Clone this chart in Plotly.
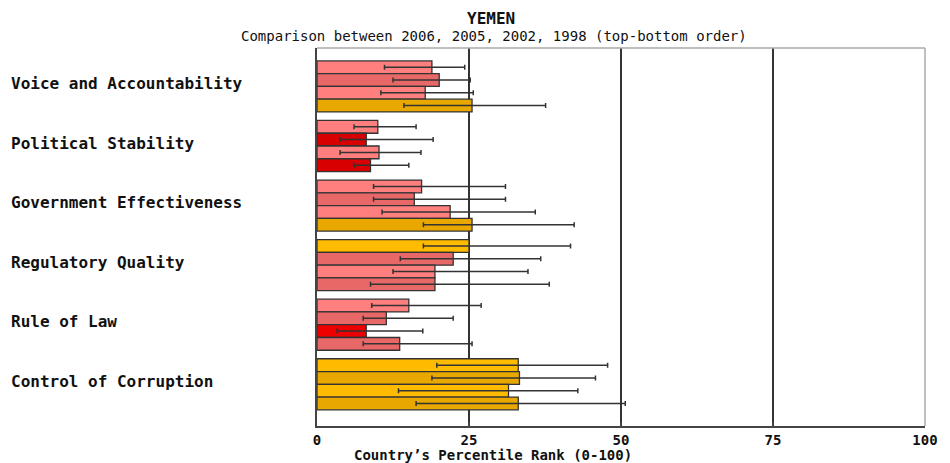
import plotly.graph_objects as go

categories = ["Voice and Accountability", "Political Stability", "Government Effectiveness",
              "Regulatory Quality", "Rule of Law", "Control of Corruption"]
years = ["2006", "2005", "2002", "1998"]

# percentile rank per year (order of categories)
rank_2006 = [18.9, 10.0, 17.2, 25.0, 15.1, 33.1]
rank_2005 = [20.1, 8.1, 16.0, 22.4, 11.4, 33.3]
rank_2002 = [17.8, 10.2, 21.9, 19.4, 8.1, 31.5]
rank_1998 = [25.5, 8.8, 25.5, 19.4, 13.6, 33.1]

# lower / upper bounds of the confidence intervals
low_2006 = [11.1, 6.1, 9.3, 17.5, 9.0, 19.7]
high_2006 = [24.3, 16.3, 31.0, 41.7, 27.0, 47.8]
low_2005 = [12.5, 3.8, 9.3, 13.7, 7.6, 18.9]
high_2005 = [25.2, 19.1, 31.0, 36.8, 22.4, 45.8]
low_2002 = [10.5, 3.8, 10.7, 12.5, 3.3, 13.4]
high_2002 = [25.7, 17.1, 35.9, 34.7, 17.4, 42.9]
low_1998 = [14.3, 6.1, 17.5, 8.8, 7.6, 16.3]
high_1998 = [37.6, 15.1, 42.3, 38.2, 25.5, 50.7]

tick_values = [0, 25, 50, 75, 100]

ranks = [rank_2006, rank_2005, rank_2002, rank_1998]
lows = [low_2006, low_2005, low_2002, low_1998]
highs = [high_2006, high_2005, high_2002, high_1998]

PALETTE = {
    "red": ("#ee0000", "#d80000"),
    "salmon": ("#ff7f7f", "#e86868"),
    "orange": ("#ffbb00", "#e9a800"),
    "lgreen": ("#99dd66", "#88cc55"),
    "green": ("#00aa00", "#009900"),
}


def shade(v, dark):
    if v < 10:
        key = "red"
    elif v < 25:
        key = "salmon"
    elif v < 50:
        key = "orange"
    elif v < 75:
        key = "lgreen"
    else:
        key = "green"
    return PALETTE[key][1 if dark else 0]


MONO = "DejaVu Sans Mono"
fig = go.Figure()
for j, yr in enumerate(years):
    vals = ranks[j]
    fig.add_trace(go.Bar(
        y=categories, x=vals, orientation="h", name=yr,
        marker=dict(color=[shade(v, j % 2 == 1) for v in vals],
                    line=dict(color="#333333", width=1.3)),
        error_x=dict(type="data", symmetric=False,
                     array=[h - v for h, v in zip(highs[j], vals)],
                     arrayminus=[v - l for v, l in zip(vals, lows[j])],
                     color="#333333", thickness=1.5, width=2.5),
        showlegend=False,
    ))

# the page body adds an 8px offset, so the figure is 8px smaller than the window
fig.update_layout(
    width=942, height=455,
    margin=dict(l=309, r=21, t=40, b=37),
    paper_bgcolor="white", plot_bgcolor="white",
    barmode="group", bargap=0.143, bargroupgap=0,
    xaxis=dict(range=[0, 100], tickvals=tick_values, ticktext=[str(t) for t in tick_values],
               showgrid=False, zeroline=False,
               showline=True, linecolor="#444444", linewidth=2,
               ticks="inside", ticklen=4, tickwidth=2, tickcolor="#444444",
               tickfont=dict(family=MONO, size=14, color="#111111", weight="bold"),
               minor=dict(tickmode="array", tickvals=tick_values[1:-1], showgrid=True,
                          gridcolor="#333333", gridwidth=2, ticks="")),
    yaxis=dict(type="category", categoryarray=categories, range=[5.70, -0.645],
               showticklabels=False, showgrid=False, zeroline=False,
               showline=True, linecolor="#444444", linewidth=2, ticks=""),
    shapes=[
        dict(type="line", xref="paper", yref="paper", x0=0, x1=1, y0=1, y1=1,
             line=dict(color="#aaaaaa", width=1.5)),
        dict(type="line", xref="paper", yref="paper", x0=1, x1=1, y0=0, y1=1,
             line=dict(color="#aaaaaa", width=1.5)),
    ],
)

annotations = [
    dict(text="YEMEN", xref="paper", yref="paper", x=(492 - 317) / 612, y=1 + (48 - 18) / 378,
         xanchor="center", yanchor="middle", showarrow=False,
         font=dict(family=MONO, size=16, color="#111111", weight="bold")),
    dict(text="Comparison between 2006, 2005, 2002, 1998 (top-bottom order)",
         xref="paper", yref="paper", x=(495 - 317) / 612, y=1 + (48 - 36) / 378,
         xanchor="center", yanchor="middle", showarrow=False,
         font=dict(family=MONO, size=14, color="#111111")),
    dict(text="Country\u2019s Percentile Rank (0-100)", xref="paper", yref="paper",
         x=(494 - 317) / 612, y=-(455 - 426) / 378, xanchor="center", yanchor="middle",
         showarrow=False, font=dict(family=MONO, size=14, color="#111111", weight="bold")),
]
for c in categories:
    annotations.append(dict(text=c, xref="paper", yref="y", x=(7 - 317) / 612, y=c,
                            xanchor="left", yanchor="middle", yshift=3, showarrow=False,
                            font=dict(family=MONO, size=16, color="#111111", weight="bold")))
fig.update_layout(annotations=annotations)

fig.write_html("out.html")
